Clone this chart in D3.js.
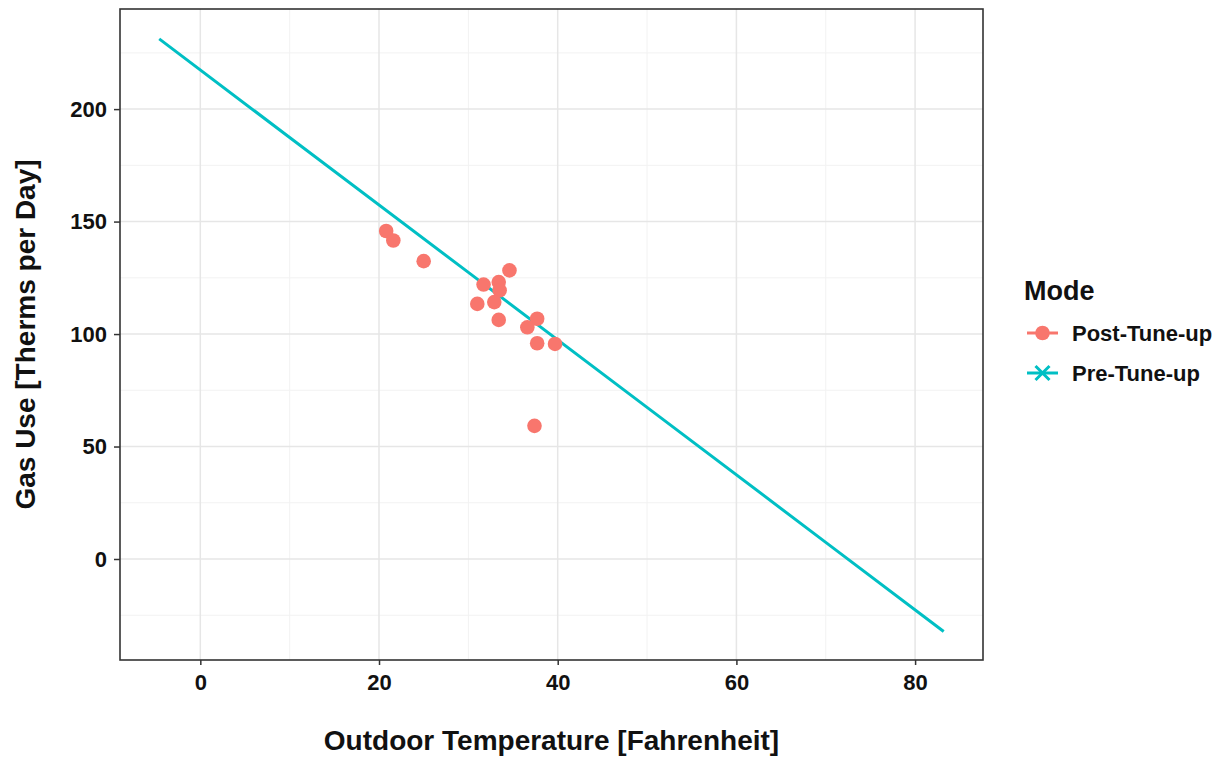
<!DOCTYPE html>
<html>
<head>
<meta charset="utf-8">
<script src="https://cdn.jsdelivr.net/npm/d3@7"></script>
<style>
  body { margin: 0; background: #fff; }
  svg { display: block; font-family: "Liberation Sans", Arial, sans-serif; }
  .tick text { font-family: "Liberation Sans Narrow", "Arial Narrow", sans-serif; font-weight: bold; font-size: 22px; fill: #111; }
</style>
</head>
<body>
<svg id="chart" width="1227" height="757"></svg>
<script>
// post tune-up measurements
var postTemp = [20.8, 21.6, 25.0, 34.6, 31.7, 33.4, 33.5, 31.0, 32.9, 33.4, 37.7, 36.6, 37.7, 39.7, 37.4];
var postGas  = [145.8, 141.6, 132.4, 128.3, 122.0, 123.1, 119.4, 113.4, 114.2, 106.3, 106.8, 103.0, 95.9, 95.6, 59.2];

// pre tune-up fitted line
var preTemp = [-4.6, 10, 30, 50, 70, 83.2];
var preGas  = [231.2, 187.4, 127.4, 67.4, 7.4, -32.2];

var xTicks = [0, 20, 40, 60, 80];
var yTicks = [0, 50, 100, 150, 200];
var modes = ['Post-Tune-up', 'Pre-Tune-up'];
var colors = ['#F8766D', '#00BFC4'];

var svg = d3.select('#chart');
var MARGINS = {left: 120, right: 983, top: 9, bottom: 660};

var xRange = d3.scaleLinear().domain([-8.99, 87.6]).range([MARGINS.left, MARGINS.right]);
var yRange = d3.scaleLinear().domain([-44.9, 244.5]).range([MARGINS.bottom, MARGINS.top]);

// grid
var grid = svg.append('g');
var xMinor = [10, 30, 50, 70];
var yMinor = [-25, 25, 75, 125, 175, 225];
grid.selectAll('.xminor').data(xMinor).enter().append('line')
  .attr('x1', xRange).attr('x2', xRange)
  .attr('y1', MARGINS.top).attr('y2', MARGINS.bottom)
  .attr('stroke', '#f2f2f2').attr('stroke-width', 1);
grid.selectAll('.yminor').data(yMinor).enter().append('line')
  .attr('y1', yRange).attr('y2', yRange)
  .attr('x1', MARGINS.left).attr('x2', MARGINS.right)
  .attr('stroke', '#f2f2f2').attr('stroke-width', 1);
grid.selectAll('.xmajor').data(xTicks).enter().append('line')
  .attr('x1', xRange).attr('x2', xRange)
  .attr('y1', MARGINS.top).attr('y2', MARGINS.bottom)
  .attr('stroke', '#e6e6e6').attr('stroke-width', 1.5);
grid.selectAll('.ymajor').data(yTicks).enter().append('line')
  .attr('y1', yRange).attr('y2', yRange)
  .attr('x1', MARGINS.left).attr('x2', MARGINS.right)
  .attr('stroke', '#e6e6e6').attr('stroke-width', 1.5);

// pre tune-up line
var line = d3.line()
  .x(function(d) { return xRange(d[0]); })
  .y(function(d) { return yRange(d[1]); });
svg.append('path')
  .datum(d3.zip(preTemp, preGas))
  .attr('d', line)
  .attr('fill', 'none')
  .attr('stroke', colors[1])
  .attr('stroke-width', 3);

// post tune-up points
svg.selectAll('circle.pt')
  .data(d3.zip(postTemp, postGas))
  .enter().append('circle')
  .attr('class', 'pt')
  .attr('cx', function(d) { return xRange(d[0]); })
  .attr('cy', function(d) { return yRange(d[1]); })
  .attr('r', 7.3)
  .attr('fill', colors[0]);

// panel border
svg.append('rect')
  .attr('x', MARGINS.left).attr('y', MARGINS.top)
  .attr('width', MARGINS.right - MARGINS.left)
  .attr('height', MARGINS.bottom - MARGINS.top)
  .attr('fill', 'none').attr('stroke', '#333').attr('stroke-width', 1.6);

// axes
var xAxis = d3.axisBottom(xRange).tickValues(xTicks).tickSize(5).tickPadding(9);
var yAxis = d3.axisLeft(yRange).tickValues(yTicks).tickSize(6).tickPadding(7);
var gx = svg.append('g').attr('transform', 'translate(0,' + MARGINS.bottom + ')').call(xAxis);
var gy = svg.append('g').attr('transform', 'translate(' + MARGINS.left + ',0)').call(yAxis);
[gx, gy].forEach(function(g) {
  g.select('.domain').remove();
  g.selectAll('.tick line').attr('stroke', '#333').attr('stroke-width', 1.5);
});
gx.selectAll('.tick text').attr('dy', '0.72em');

// axis titles
svg.append('text')
  .attr('x', (MARGINS.left + MARGINS.right) / 2).attr('y', 750)
  .attr('text-anchor', 'middle')
  .style('font-size', '28px').style('font-weight', 'bold').attr('fill', '#111')
  .text('Outdoor Temperature [Fahrenheit]');
svg.append('text')
  .attr('transform', 'translate(35,' + ((MARGINS.top + MARGINS.bottom) / 2) + ') rotate(-90)')
  .attr('text-anchor', 'middle')
  .style('font-size', '28px').style('font-weight', 'bold').attr('fill', '#111')
  .text('Gas Use [Therms per Day]');

// legend
var legend = svg.append('g').attr('transform', 'translate(1024,0)');
legend.append('text')
  .attr('x', 0).attr('y', 300)
  .style('font-size', '27px').style('font-weight', 'bold').attr('fill', '#111')
  .text('Mode');
var keys = legend.selectAll('.key').data(modes).enter().append('g')
  .attr('transform', function(d, i) { return 'translate(0,' + (333 + i * 40) + ')'; });
keys.append('line')
  .attr('x1', 3).attr('x2', 34).attr('y1', 0).attr('y2', 0)
  .attr('stroke', function(d, i) { return colors[i]; })
  .attr('stroke-width', 3);
keys.filter(function(d, i) { return i === 0; }).append('circle')
  .attr('cx', 18.5).attr('cy', 0).attr('r', 7.3).attr('fill', colors[0]);
keys.filter(function(d, i) { return i === 1; }).append('path')
  .attr('d', 'M11.5,-7L25.5,7M11.5,7L25.5,-7')
  .attr('stroke', colors[1]).attr('stroke-width', 3);
keys.append('text')
  .attr('x', 48).attr('y', 8)
  .style('font-size', '22px').style('font-weight', 'bold').attr('fill', '#111')
  .text(function(d) { return d; });
</script>
</body>
</html>
